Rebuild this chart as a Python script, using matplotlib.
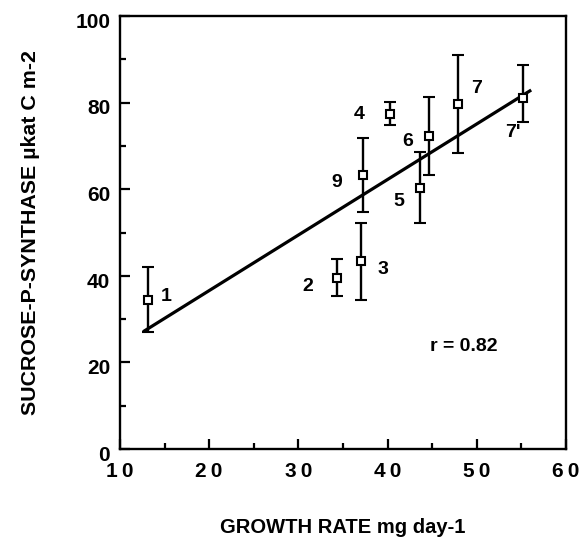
import matplotlib
matplotlib.use("Agg")
import matplotlib.pyplot as plt
import matplotlib.transforms as mtransforms
from matplotlib.ticker import MultipleLocator, FuncFormatter

plt.rcParams['font.family'] = ['Liberation Sans', 'DejaVu Sans']
plt.rcParams['font.weight'] = 'bold'

# Growth rate (mg/day) vs sucrose-P-synthase activity, with error ranges
labels = ["1", "2", "3", "9", "4", "5", "6", "7", "7'"]
growth = [13.2, 34.3, 37.0, 37.3, 40.3, 43.6, 44.7, 47.9, 55.2]
sps = [34.5, 39.6, 43.5, 63.4, 77.4, 60.4, 72.4, 79.6, 81.0]
err_low = [27.0, 35.4, 34.4, 54.8, 74.8, 52.2, 63.4, 68.4, 75.6]
err_high = [42.0, 43.8, 52.2, 71.8, 80.1, 68.7, 81.4, 91.0, 88.6]

# positions of the point labels
label_x = [15.2, 31.0, 39.5, 34.3, 36.8, 41.3, 42.3, 50.0, 54.1]
label_y = [35.2, 37.6, 41.5, 61.6, 77.3, 57.1, 71.0, 83.3, 73.1]

# regression line
slope = 1.283
intercept = 10.93
fit_x = [12.6, 56.1]
r_value = 0.82

fig = plt.figure(figsize=(5.85, 5.43), dpi=100)
ax = fig.add_axes([0.205, 0.173, 0.7625, 0.7975])

ax.plot(fit_x, [slope * x + intercept for x in fit_x], color='black', lw=2.3,
        solid_capstyle='butt', zorder=2)

yerr = [[s - lo for s, lo in zip(sps, err_low)],
        [hi - s for s, hi in zip(sps, err_high)]]
ax.errorbar(growth, sps, yerr=yerr, fmt='s', ms=5.5, mfc='white', mec='black',
            mew=1.5, ecolor='black', elinewidth=1.7, capsize=4, capthick=1.7,
            zorder=3)

for lab, lx, ly in zip(labels, label_x, label_y):
    ax.text(lx, ly, lab, fontsize=14, fontweight='bold', ha='center', va='center')

ax.text(48.5, 23.6, f"r = {r_value}", fontsize=14, fontweight='bold',
        ha='center', va='center')

ax.set_xlim(10, 60)
ax.set_ylim(0, 100)
ax.xaxis.set_major_locator(MultipleLocator(10))
ax.xaxis.set_minor_locator(MultipleLocator(5))
ax.yaxis.set_major_locator(MultipleLocator(20))
ax.yaxis.set_minor_locator(MultipleLocator(10))
ax.xaxis.set_major_formatter(FuncFormatter(lambda v, p: "\u2009".join(str(int(v)))))

ax.tick_params(which='both', direction='in', top=False, right=False,
               width=1.6, labelsize=15)
ax.tick_params(which='major', length=7)
ax.tick_params(which='minor', length=4)
ax.tick_params(axis='x', pad=9)
ax.tick_params(axis='y', pad=7)
for lbl in ax.get_xticklabels() + ax.get_yticklabels():
    lbl.set_fontweight('bold')
for sp in ax.spines.values():
    sp.set_linewidth(1.7)

# y tick labels sit a little below their ticks
shift = mtransforms.ScaledTranslation(0, -3 / 72, fig.dpi_scale_trans)
for tick in ax.yaxis.get_major_ticks():
    tick.label1.set_transform(tick.label1.get_transform() + shift)

ax.set_xlabel("GROWTH RATE mg day-1", fontsize=14.5, fontweight='bold', labelpad=27)
ax.set_ylabel("SUCROSE-P-SYNTHASE \u00b5kat C m-2", fontsize=15.4, fontweight='bold',
              labelpad=25)

fig.savefig("out.png", dpi=100)
